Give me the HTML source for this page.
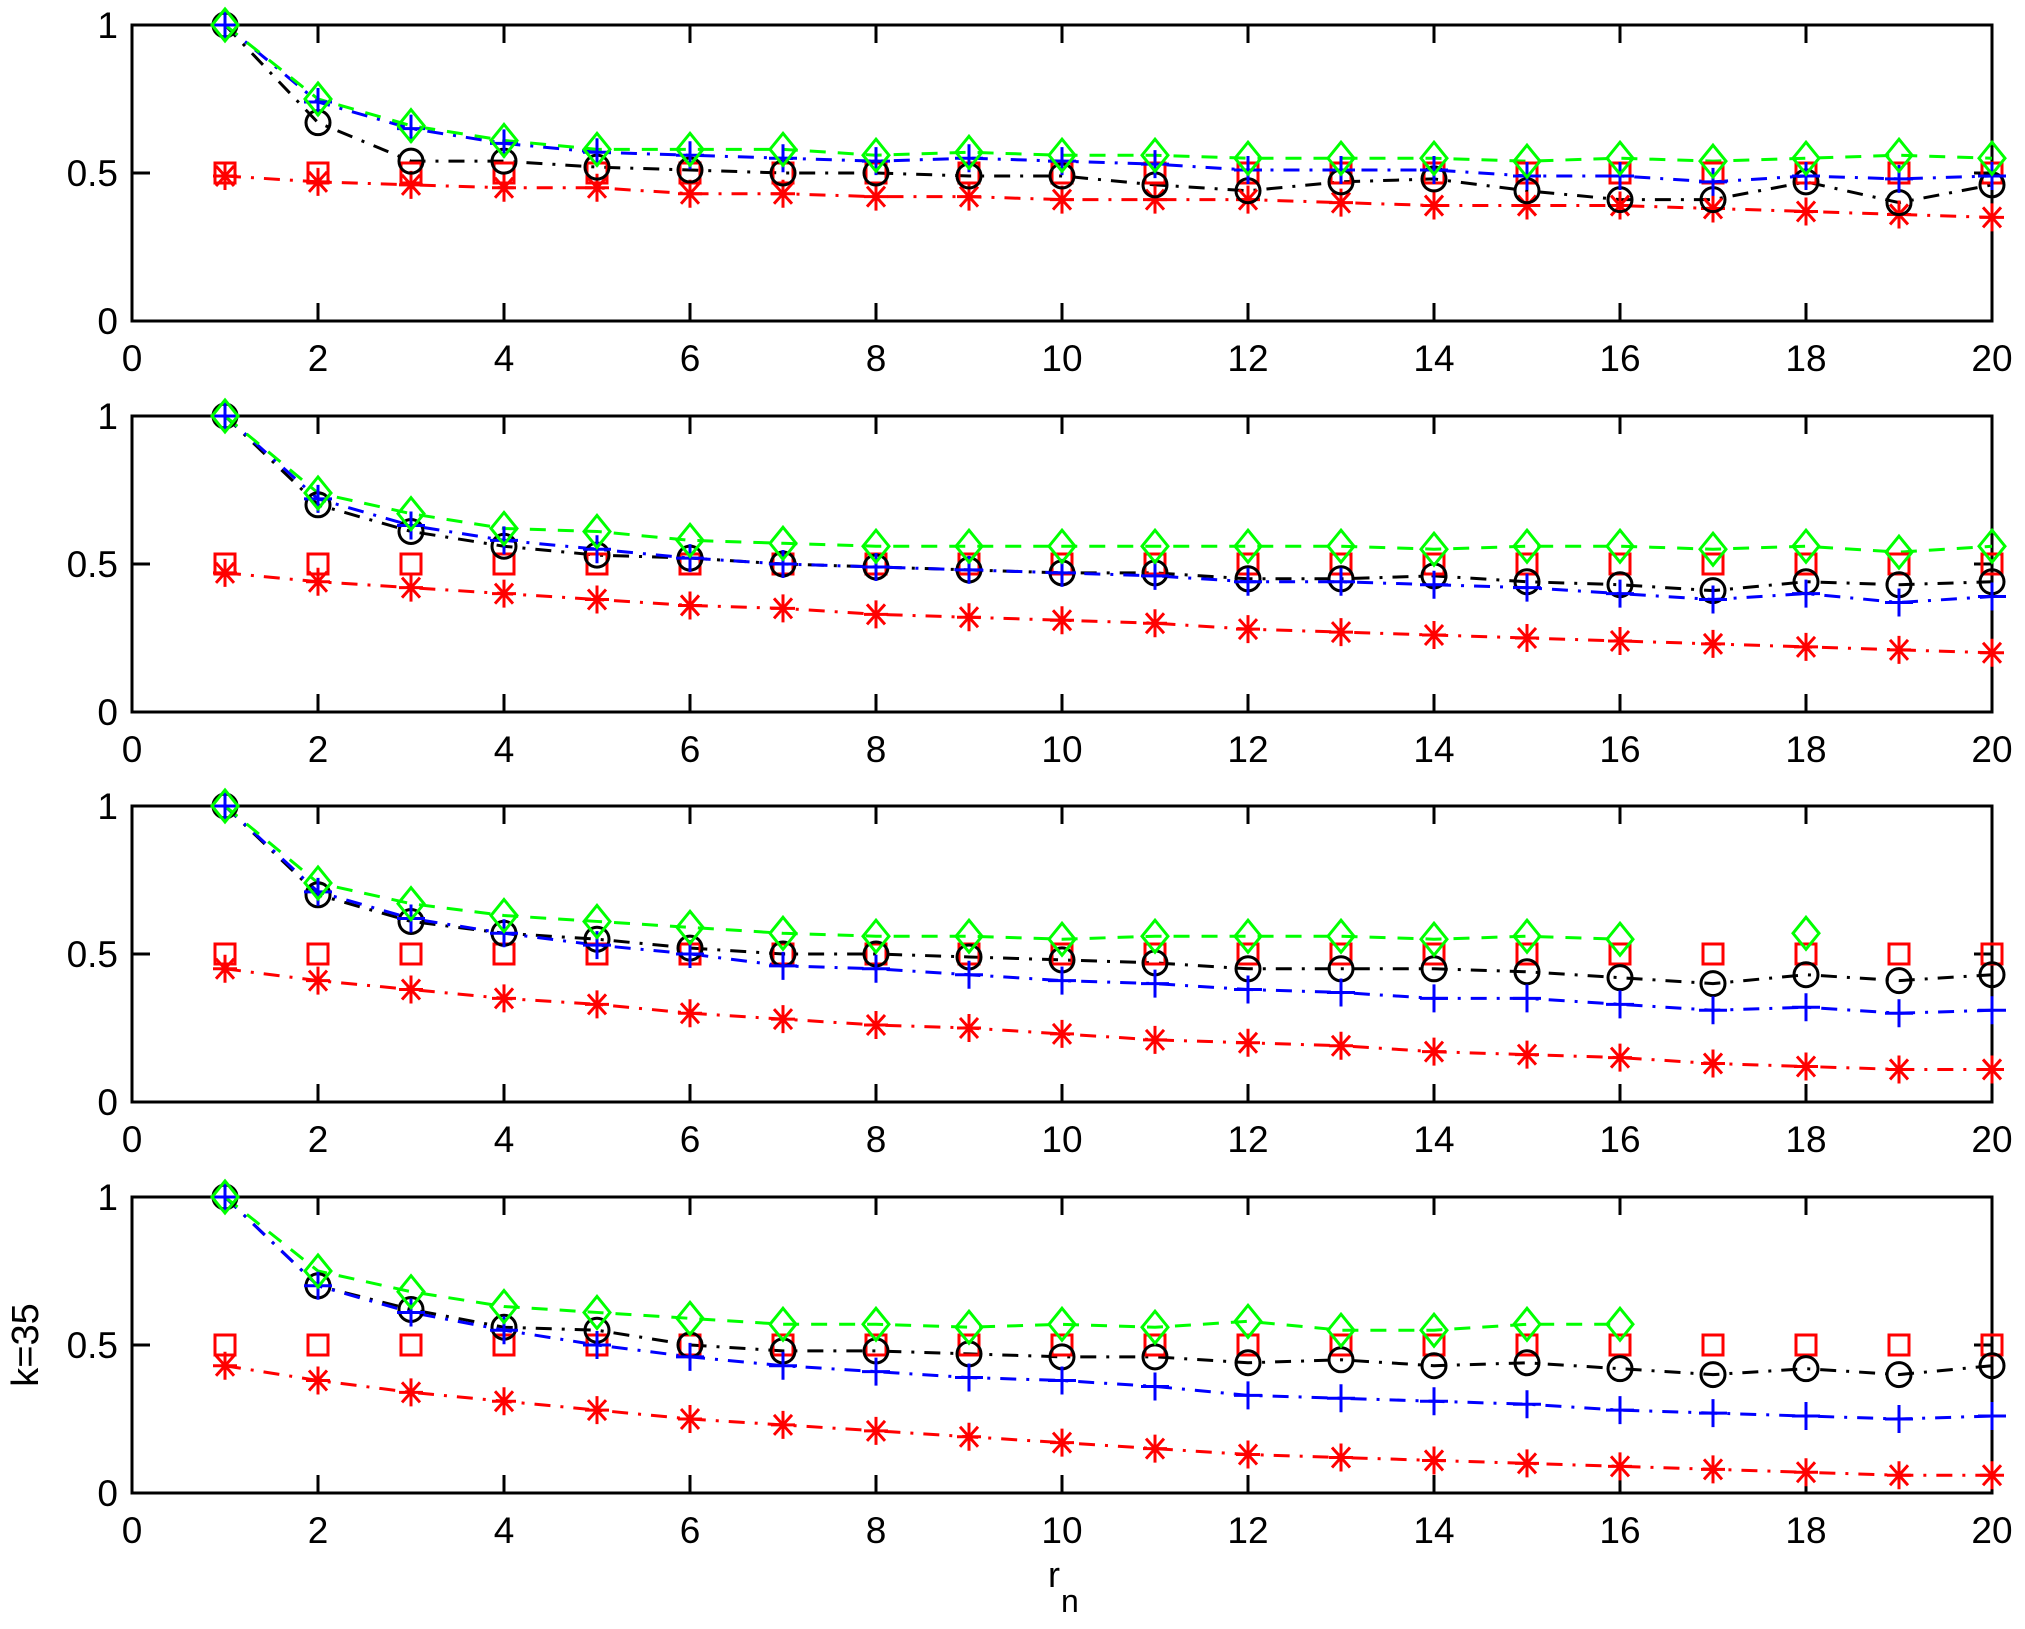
<!DOCTYPE html>
<html><head><meta charset="utf-8"><style>
html,body{margin:0;padding:0;background:#fff;}
svg{display:block;font-family:"Liberation Sans",Arial,sans-serif;}
</style></head><body>
<svg id="s" width="2025" height="1629" xmlns="http://www.w3.org/2000/svg"></svg>
<script>
const S=document.getElementById('s');
const L=132,R=1992,H=296,tops=[25,416,806,1197];
const D=[
{g:[1,.75,.66,.61,.58,.58,.58,.56,.57,.56,.56,.55,.55,.55,.54,.55,.54,.55,.56,.55],
 b:[1,.74,.65,.60,.57,.56,.55,.54,.55,.54,.53,.51,.51,.51,.49,.49,.47,.49,.48,.49],
 k:[1,.67,.54,.54,.52,.51,.50,.50,.49,.49,.46,.44,.47,.48,.44,.41,.41,.47,.40,.46],
 r:[.49,.47,.46,.45,.45,.43,.43,.42,.42,.41,.41,.41,.40,.39,.39,.39,.38,.37,.36,.35]},
{g:[1,.74,.67,.62,.61,.58,.57,.56,.56,.56,.56,.56,.56,.55,.56,.56,.55,.56,.54,.56],
 b:[1,.72,.63,.58,.55,.52,.50,.49,.48,.47,.46,.44,.44,.43,.42,.40,.38,.40,.37,.39],
 k:[1,.70,.61,.56,.53,.52,.50,.49,.48,.47,.47,.45,.45,.46,.44,.43,.41,.44,.43,.44],
 r:[.47,.44,.42,.40,.38,.36,.35,.33,.32,.31,.30,.28,.27,.26,.25,.24,.23,.22,.21,.20]},
{g:[1,.74,.67,.63,.61,.59,.57,.56,.56,.55,.56,.56,.56,.55,.56,.55],g2:[[18,.57]],
 b:[1,.71,.62,.57,.53,.50,.46,.45,.43,.41,.40,.38,.37,.35,.35,.33,.31,.32,.30,.31],
 k:[1,.70,.61,.57,.55,.52,.50,.50,.49,.48,.47,.45,.45,.45,.44,.42,.40,.43,.41,.43],
 r:[.45,.41,.38,.35,.33,.30,.28,.26,.25,.23,.21,.20,.19,.17,.16,.15,.13,.12,.11,.11]},
{g:[1,.75,.68,.63,.61,.59,.57,.57,.56,.57,.56,.58,.55,.55,.57,.57],
 b:[1,.70,.61,.55,.50,.46,.43,.41,.39,.38,.36,.33,.32,.31,.30,.28,.27,.26,.25,.26],
 k:[1,.70,.62,.56,.55,.50,.48,.48,.47,.46,.46,.44,.45,.43,.44,.42,.40,.42,.40,.43],
 r:[.43,.38,.34,.31,.28,.25,.23,.21,.19,.17,.15,.13,.12,.11,.10,.09,.08,.07,.06,.06]}];
let o='';
const X=v=>L+v*(R-L)/20;
const DD='16,10,3,10', DS='16,12';
function line(arr,t,col,dash){let p=arr.map((v,i)=>X(i+1)+','+(t+H-v*H)).join(' ');
 o+=`<polyline points="${p}" fill="none" stroke="${col}" stroke-width="3" stroke-dasharray="${dash}"/>`;}
function mk(type,x,y){const c={g:'#00ff00',b:'#0000ff',k:'#000',r:'#ff0000',q:'#ff0000'}[type];
 const a=`stroke="${c}" stroke-width="3" fill="none"`;
 if(type=='g')o+=`<polygon points="${x},${y-16} ${x+13},${y} ${x},${y+16} ${x-13},${y}" ${a}/>`;
 if(type=='b')o+=`<path d="M${x-14} ${y}H${x+14}M${x} ${y-14}V${y+14}" ${a}/>`;
 if(type=='k')o+=`<circle cx="${x}" cy="${y}" r="12" ${a}/>`;
 if(type=='q')o+=`<rect x="${x-10}" y="${y-10}" width="20" height="20" ${a}/>`;
 if(type=='r')o+=`<path d="M${x-12} ${y}H${x+12}M${x} ${y-14}V${y+14}M${x-9} ${y-10}L${x+9} ${y+10}M${x-9} ${y+10}L${x+9} ${y-10}" ${a}/>`;}
D.forEach((d,pi)=>{const t=tops[pi],B=t+H;
 o+=`<rect x="${L}" y="${t}" width="${R-L}" height="${H}" fill="none" stroke="#000" stroke-width="3"/>`;
 for(let i=0;i<=10;i++){const x=X(i*2);
  if(i>0&&i<10)o+=`<path d="M${x} ${B}V${B-18}M${x} ${t}V${t+18}" stroke="#000" stroke-width="3"/>`;
  o+=`<text x="${x}" y="${B+50}" font-size="37" text-anchor="middle">${i*2}</text>`;}
 [[0,'0'],[.5,'0.5'],[1,'1']].forEach(([v,s])=>{const y=B-v*H;
  if(v==.5)o+=`<path d="M${L} ${y}H${L+18}M${R} ${y}H${R-18}" stroke="#000" stroke-width="3"/>`;
  o+=`<text x="118" y="${y+13}" font-size="37" text-anchor="end">${s}</text>`;});
 line(d.r,t,'#ff0000',DD); line(d.k,t,'#000',DD); line(d.b,t,'#0000ff',DD); line(d.g,t,'#00ff00',DS);
 for(let i=0;i<20;i++)mk('q',X(i+1),B-.5*H);
 d.r.forEach((v,i)=>mk('r',X(i+1),B-v*H));
 d.k.forEach((v,i)=>mk('k',X(i+1),B-v*H));
 d.b.forEach((v,i)=>mk('b',X(i+1),B-v*H));
 d.g.forEach((v,i)=>mk('g',X(i+1),B-v*H));
 (d.g2||[]).forEach(([x,v])=>mk('g',X(x),B-v*H));
});
o+=`<text transform="translate(38,1345) rotate(-90)" font-size="38" text-anchor="middle">k=35</text>`;
o+=`<text x="1048" y="1587" font-size="36">r</text><text x="1061" y="1612" font-size="32">n</text>`;
S.innerHTML=o;
</script>
</body></html>
